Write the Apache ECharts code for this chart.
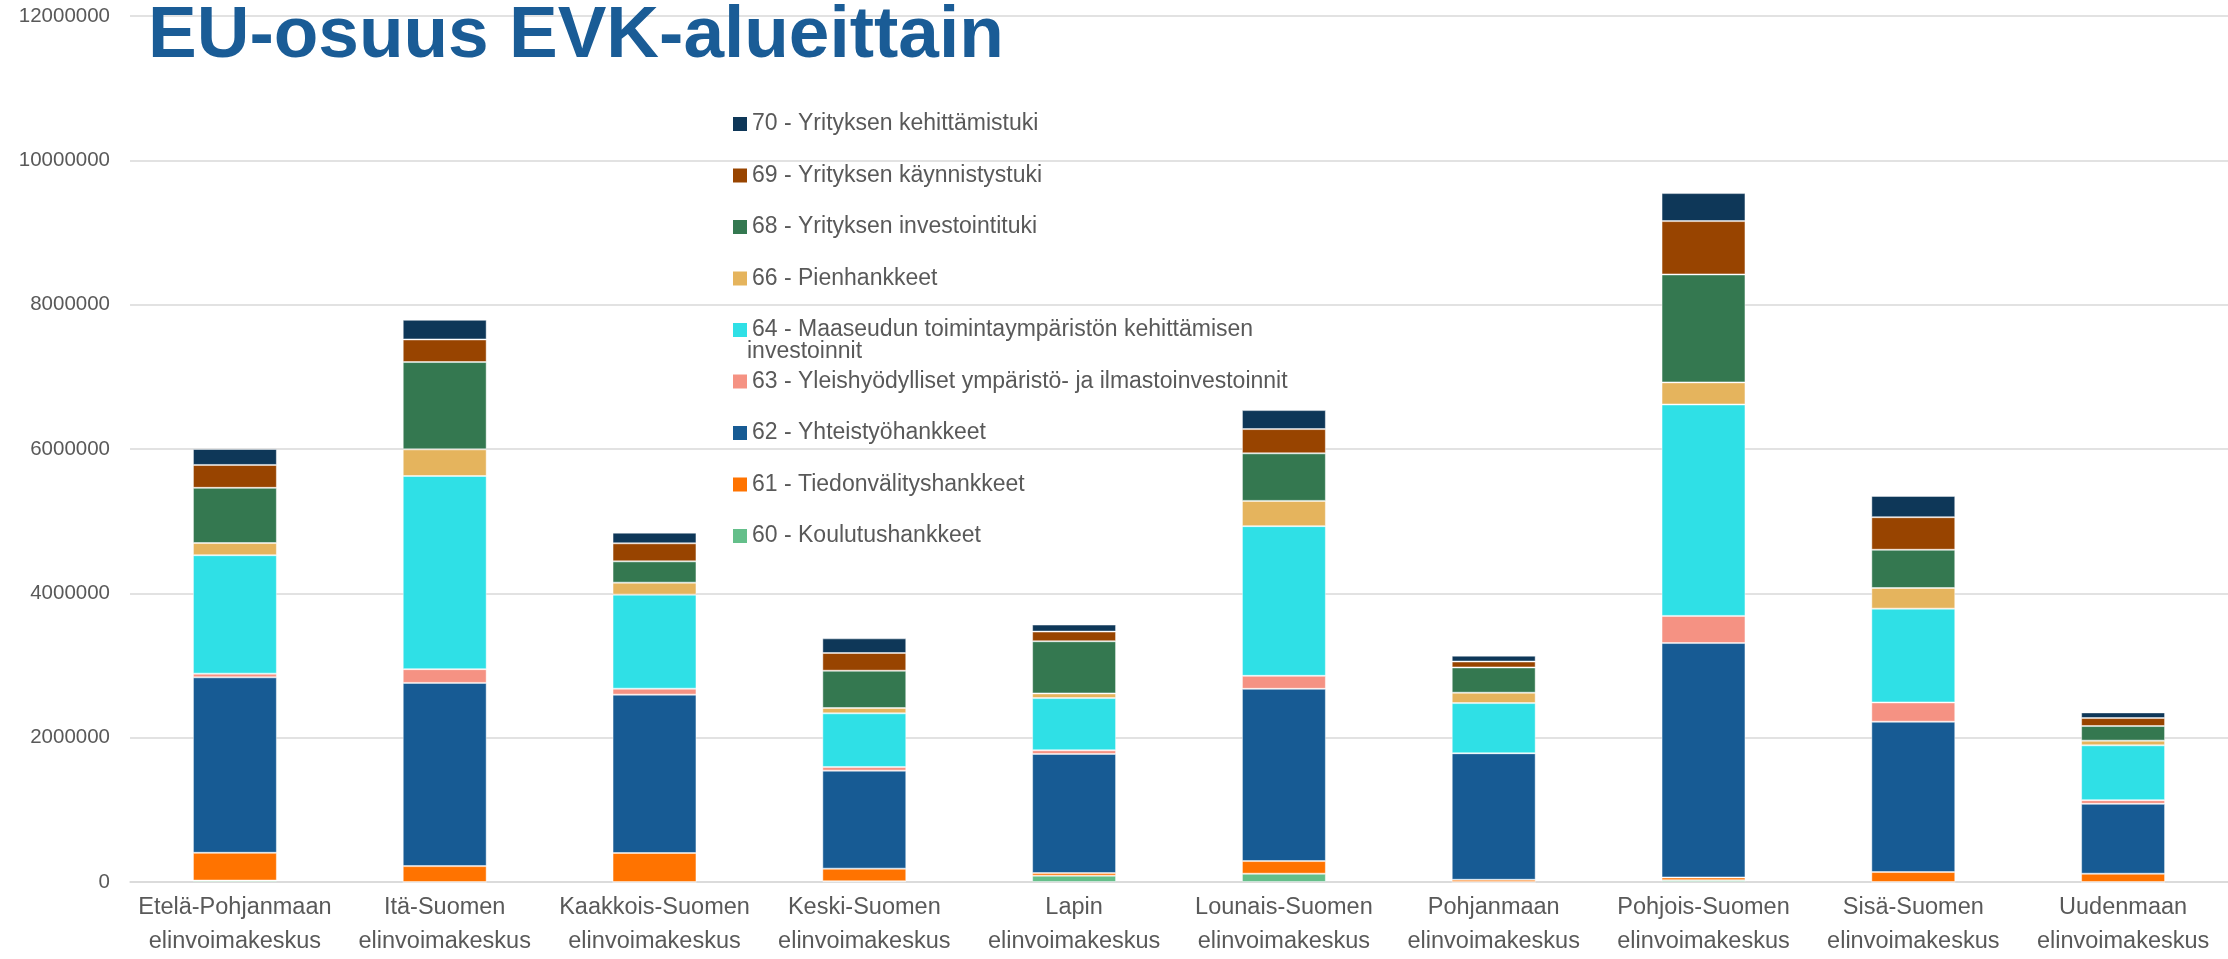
<!DOCTYPE html>
<html>
<head>
<meta charset="utf-8">
<script src="https://cdn.jsdelivr.net/npm/echarts@6/dist/echarts.min.js"></script>
<style>html,body{margin:0;padding:0;background:#fff;}#c{width:2228px;height:959px;}</style>
</head>
<body>
<div id="c"></div>
<script>
const categories = [
  'Etelä-Pohjanmaan\nelinvoimakeskus', 'Itä-Suomen\nelinvoimakeskus', 'Kaakkois-Suomen\nelinvoimakeskus',
  'Keski-Suomen\nelinvoimakeskus', 'Lapin\nelinvoimakeskus', 'Lounais-Suomen\nelinvoimakeskus',
  'Pohjanmaan\nelinvoimakeskus', 'Pohjois-Suomen\nelinvoimakeskus', 'Sisä-Suomen\nelinvoimakeskus',
  'Uudenmaan\nelinvoimakeskus'
];
const seriesNames = [
  '60 - Koulutushankkeet',
  '61 - Tiedonvälityshankkeet',
  '62 - Yhteistyöhankkeet',
  '63 - Yleishyödylliset ympäristö- ja ilmastoinvestoinnit',
  '64 - Maaseudun toimintaympäristön kehittämisen\ninvestoinnit',
  '66 - Pienhankkeet',
  '68 - Yrityksen investointituki',
  '69 - Yrityksen käynnistystuki',
  '70 - Yrityksen kehittämistuki'
];
const s60 = [20000, 0, 0, 10000, 88000, 115000, 0, 25000, 0, 0];
const s61 = [385000, 220000, 402000, 175000, 36000, 175000, 31000, 38000, 138000, 115000];
const s62 = [2431000, 2539000, 2194000, 1358000, 1650000, 2387000, 1753000, 3248000, 2083000, 968000];
const s63 = [51000, 190000, 83000, 51000, 51000, 180000, 0, 376000, 267000, 51000];
const s64 = [1641000, 2677000, 1303000, 743000, 723000, 2074000, 695000, 2930000, 1300000, 760000];
const s66 = [169000, 369000, 166000, 74000, 65000, 350000, 144000, 306000, 286000, 65000];
const s68 = [765000, 1210000, 295000, 517000, 723000, 659000, 350000, 1496000, 530000, 202000];
const s69 = [317000, 313000, 250000, 245000, 134000, 336000, 82000, 739000, 451000, 111000];
const s70 = [221000, 272000, 148000, 203000, 97000, 263000, 81000, 388000, 295000, 78000];
const yTicks = [0, 2000000, 4000000, 6000000, 8000000, 10000000, 12000000];

const values = [s60, s61, s62, s63, s64, s66, s68, s69, s70];
const colors = ['#64BF8A', '#FF7300', '#175B94', '#F59283', '#2FE0E6', '#E5B45D', '#347850', '#984400', '#0E3758'];

const chart = echarts.init(document.getElementById('c'), null, {renderer: 'canvas'});
const series = seriesNames.map((n, i) => ({
  name: n,
  type: 'bar',
  stack: 'total',
  barWidth: '40%',
  data: values[i],
  itemStyle: {color: colors[i], borderColor: 'rgba(255,255,255,0.45)', borderWidth: 1},
  emphasis: {disabled: true}
}));

const legendFont = {fontFamily: 'Liberation Sans', fontSize: 23, color: '#595959', lineHeight: 27};
const legendTop = 105.5;
const legendGap = 24.5;
// the wrapped continuation of a long legend label is drawn as its own line under it
const wrapped = [];
const legendData = seriesNames.slice().reverse().map((n, idx) => {
  const parts = n.split('\n');
  if (parts.length > 1) {
    for (let k = 1; k < parts.length; k++) {
      wrapped.push({
        type: 'text',
        x: 728 + 14 + 5,
        y: legendTop + 13.5 + idx * (27 + legendGap) + k * 27,
        silent: true,
        style: {text: parts[k], fontFamily: legendFont.fontFamily, fontSize: legendFont.fontSize,
                fill: legendFont.color, verticalAlign: 'middle', align: 'left'}
      });
    }
  }
  return {name: n};
});

chart.setOption({
  animation: false,
  backgroundColor: '#ffffff',
  color: colors,
  title: {
    text: 'EU-osuus EVK-alueittain',
    left: 148,
    top: 0,
    padding: 0,
    textStyle: {fontFamily: 'Liberation Sans', fontWeight: 'bold', fontSize: 73, color: '#1A5C96', lineHeight: 73}
  },
  legend: {
    orient: 'vertical',
    left: 728,
    top: legendTop,
    itemWidth: 14,
    itemHeight: 14,
    itemGap: legendGap,
    icon: 'rect',
    itemStyle: {borderWidth: 0},
    data: legendData,
    formatter: name => name.split('\n')[0],
    textStyle: legendFont
  },
  graphic: wrapped,
  grid: {left: 130, right: 0, top: 16, bottom: 75, containLabel: false},
  xAxis: {
    type: 'category',
    data: categories,
    axisLine: {lineStyle: {color: '#D9D9D9', width: 1.5}},
    axisTick: {show: false},
    axisLabel: {fontFamily: 'Liberation Sans', fontSize: 23.5, color: '#595959', lineHeight: 34, margin: 9, interval: 0}
  },
  yAxis: {
    type: 'value',
    min: yTicks[0],
    max: yTicks[yTicks.length - 1],
    interval: yTicks[1] - yTicks[0],
    axisLine: {show: false},
    axisTick: {show: false},
    splitLine: {lineStyle: {color: '#D9D9D9', width: 1.5}},
    axisLabel: {fontFamily: 'Liberation Sans', fontSize: 20.5, color: '#595959', margin: 20, formatter: v => String(v)}
  },
  series: series
});
</script>
</body>
</html>
